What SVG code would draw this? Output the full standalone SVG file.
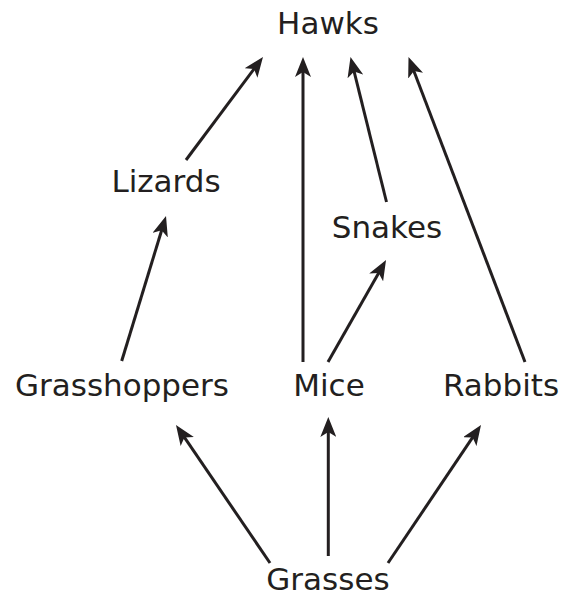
<svg xmlns="http://www.w3.org/2000/svg" width="561" height="597" viewBox="0 0 561 597">
<style>
.lbl{font-family:"DejaVu Sans",Verdana,sans-serif;font-size:31px;fill:#231f20;text-anchor:middle}
.edge{stroke:#231f20;stroke-width:3;fill:none;marker-end:url(#ah)}
</style>
<defs>
<marker id="ah" viewBox="0 -8 20 16" refX="8" refY="0" markerWidth="20" markerHeight="16" markerUnits="userSpaceOnUse" orient="auto">
<path d="M20,0 L0,-8 L5,0 L0,8 z" fill="#231f20"/>
</marker>
</defs>
<rect width="561" height="597" fill="#fff"/>
<g id="connectors">
<line class="edge" x1="186" y1="160" x2="255.8" y2="66.6"/>
<line class="edge" x1="303" y1="362" x2="303" y2="69"/>
<line class="edge" x1="386.5" y1="202" x2="353.4" y2="68.6"/>
<line class="edge" x1="525" y1="362" x2="412.8" y2="68.2"/>
<line class="edge" x1="121.7" y1="361" x2="162.5" y2="227.5"/>
<line class="edge" x1="328" y1="362" x2="380.1" y2="270.4"/>
<line class="edge" x1="270" y1="563" x2="182.75" y2="434.9"/>
<line class="edge" x1="328.3" y1="556" x2="328.3" y2="429"/>
<line class="edge" x1="388" y1="563" x2="474.3" y2="434.95"/>
</g>
<g id="hawks"><text class="lbl" x="328" y="34">Hawks</text></g>
<g id="lizards"><text class="lbl" x="166" y="192">Lizards</text></g>
<g id="snakes"><text class="lbl" x="387" y="238">Snakes</text></g>
<g id="grasshoppers"><text class="lbl" x="122" y="396">Grasshoppers</text></g>
<g id="mice"><text class="lbl" x="329" y="396">Mice</text></g>
<g id="rabbits"><text class="lbl" x="501" y="396">Rabbits</text></g>
<g id="grasses"><text class="lbl" x="328" y="590">Grasses</text></g>
</svg>
